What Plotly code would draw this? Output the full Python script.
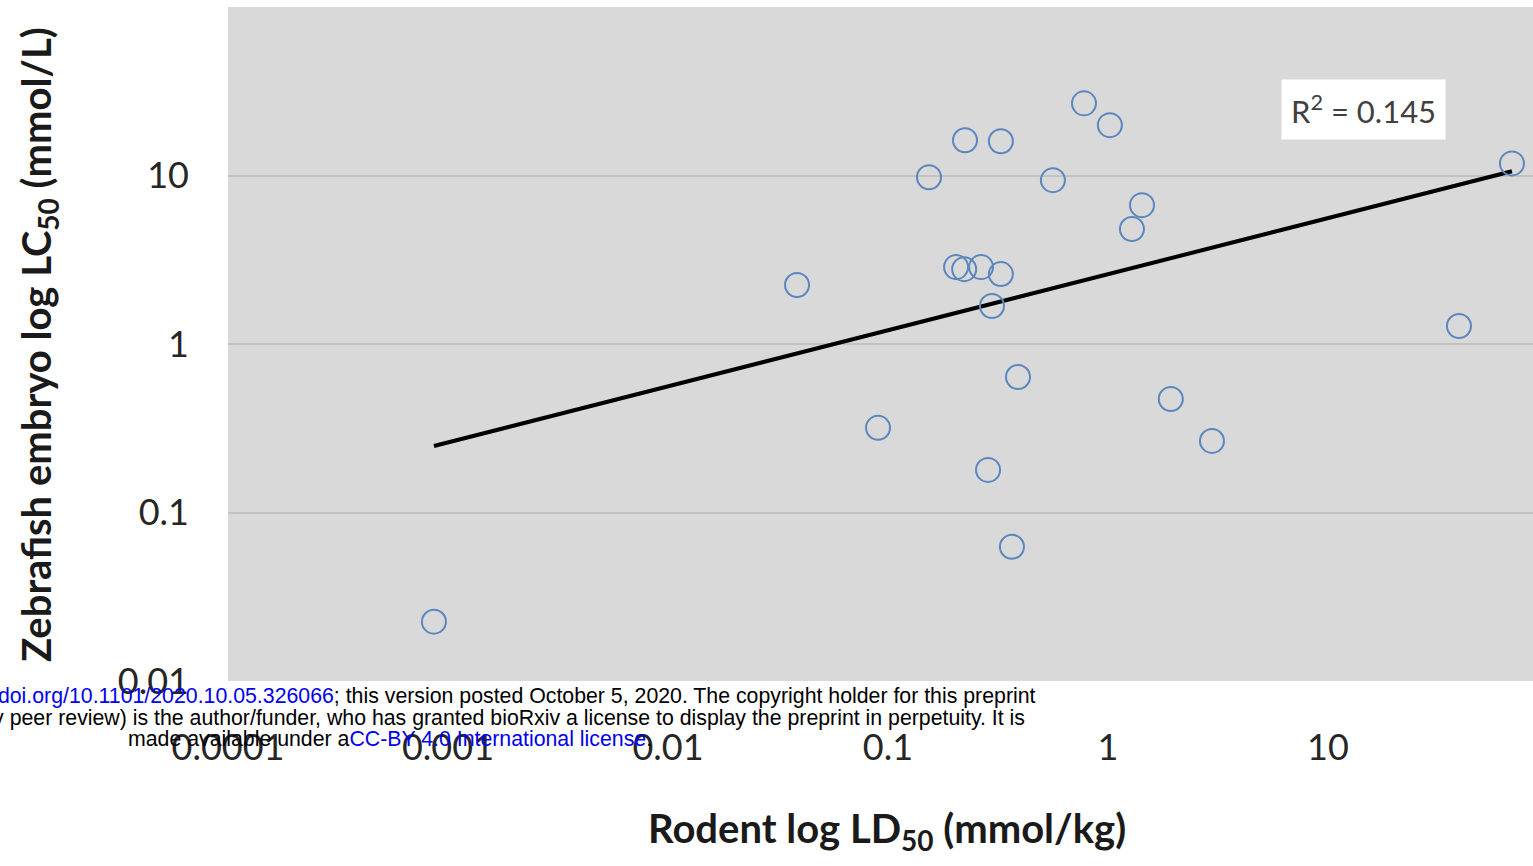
import plotly.graph_objects as go

# Data
rodent_ld50 = [0.000863, 0.0386, 0.0901, 0.1536, 0.224, 0.326, 0.778, 1.02, 0.562,
               1.428, 1.285, 0.204, 0.222, 0.265, 0.326, 0.297, 0.390, 0.285, 0.366,
               1.93, 2.97, 39.4, 68.6]
zebrafish_lc50 = [0.0225, 2.24, 0.318, 9.77, 16.2, 15.96, 26.8, 19.9, 9.38,
                  6.67, 4.81, 2.86, 2.78, 2.86, 2.60, 1.68, 0.637, 0.179, 0.0626,
                  0.472, 0.266, 1.28, 11.8]
trend_x = [0.000863, 68.6]
trend_y = [0.248, 10.6]

x_tickvals = [0.0001, 0.001, 0.01, 0.1, 1, 10]
x_ticktext = ["0.0001", "0.001", "0.01", "0.1", "1", "10"]
y_tickvals = [0.01, 0.1, 1, 10]
y_ticktext = ["0.01", "0.1", "1", "10"]
r2_label = "R<sup>2</sup> = 0.145"

W, H = 1533, 866
ML, MR, MT, MB = 228, 0, 7, 185
PW, PH = W - ML - MR, H - MT - MB


def px_x(px):
    return (px - ML) / PW


def px_y(py):
    return (H - MB - py) / PH


fig = go.Figure()
fig.add_trace(go.Scatter(
    x=trend_x, y=trend_y, mode="lines",
    line=dict(color="black", width=4), showlegend=False, hoverinfo="skip"))
fig.add_trace(go.Scatter(
    x=rodent_ld50, y=zebrafish_lc50, mode="markers",
    marker=dict(symbol="circle-open", size=24, color="#5b87bf", line=dict(width=2)),
    showlegend=False))

tick_font = dict(family="Lato, Liberation Sans, sans-serif", size=36, color="#262626")

fig.update_xaxes(type="log", range=[-4, 1.932], tickvals=x_tickvals, ticktext=x_ticktext,
                 showgrid=False, zeroline=False, showline=False, ticks="",
                 tickfont=tick_font, ticklabelstandoff=42)
fig.update_yaxes(type="log", range=[-2, 2], tickvals=y_tickvals, ticktext=y_ticktext,
                 showgrid=True, gridcolor="#c2c2c2", gridwidth=2, zeroline=False,
                 showline=False, ticks="", tickfont=tick_font, ticklabelstandoff=38)

# darker line at y = 1
fig.add_shape(type="line", xref="paper", yref="paper", x0=0, x1=1, y0=0.5, y1=0.5,
              line=dict(color="#a3a3a3", width=2), layer="below")

foot_font = dict(family="Liberation Sans, Arial, sans-serif", size=21.3, color="black")
annotations = [
    dict(text="<b>Rodent log LD<sub>50</sub> (mmol/kg)</b>", x=px_x(887), y=px_y(830),
         font=dict(family="Lato, Liberation Sans, sans-serif", size=40, color="#1a1a1a"),
         xanchor="center", yanchor="middle"),
    dict(text="<b>Zebrafish embryo log LC<sub>50</sub> (mmol/L)</b>", x=px_x(38), y=px_y(345),
         textangle=-90,
         font=dict(family="Lato, Liberation Sans, sans-serif", size=40, color="#1a1a1a"),
         xanchor="center", yanchor="middle"),
    dict(text=r2_label, x=px_x(1363), y=px_y(109), bgcolor="white", borderpad=9,
         font=dict(family="Lato, Liberation Sans, sans-serif", size=31, color="#404040"),
         xanchor="center", yanchor="middle"),
    dict(text='<span style="color:#0000ee">https://doi.org/10.1101/2020.10.05.326066</span>; this version posted October 5, 2020. The copyright holder for this preprint',
         x=px_x(1038), y=px_y(696), xanchor="right", yanchor="middle", font=foot_font),
    dict(text="(which was not certified by peer review) is the author/funder, who has granted bioRxiv a license to display the preprint in perpetuity. It is",
         x=px_x(1027), y=px_y(718), xanchor="right", yanchor="middle", font=foot_font),
    dict(text='made available under a<span style="color:#0000ee">CC-BY 4.0 International license</span>.',
         x=px_x(126), y=px_y(739), xanchor="left", yanchor="middle", font=foot_font),
]
for a in annotations:
    a.update(xref="paper", yref="paper", showarrow=False)
fig.update_layout(annotations=annotations)

fig.update_layout(
    width=W, height=H,
    margin=dict(l=ML, r=MR, t=MT, b=MB, autoexpand=False),
    paper_bgcolor="white", plot_bgcolor="#d9d9d9",
)

fig.write_html("out.html")
